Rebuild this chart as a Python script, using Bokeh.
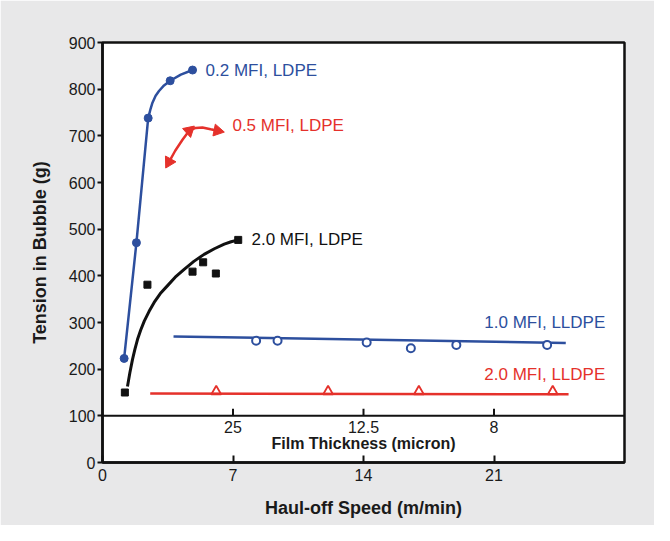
import math
from bokeh.plotting import figure
from bokeh.models import FixedTicker, Span
from bokeh.embed import file_html
from bokeh.resources import INLINE
from bokeh.core.properties import value

# ---------------- data ----------------
# 0.2 MFI, LDPE (blue, filled circles) and its drawn curve
ldpe02_x = [1.16, 1.82, 2.45, 3.63, 4.83]
ldpe02_y = [223, 471, 738, 818, 841]
ldpe02_curve_x = [1.16, 1.82, 2.45, 2.58, 2.68, 2.85, 3.03, 3.30, 3.63, 4.20, 4.83]
ldpe02_curve_y = [223, 471, 738, 758, 771, 786, 796, 808, 818, 831, 841]

# 0.5 MFI, LDPE (red curved arrow)
ldpe05_curve_x = [3.57, 3.90, 4.30, 4.65, 5.00, 5.36, 5.80, 6.17]
ldpe05_curve_y = [644, 668, 692, 711, 717, 718, 714, 711]
ldpe05_head_x = [3.57, 4.65, 6.17]
ldpe05_head_y = [644, 711, 711]

# 2.0 MFI, LDPE (black squares) and fitted curve
ldpe20_x = [1.20, 2.41, 4.83, 5.40, 6.08, 7.28]
ldpe20_y = [150, 381, 409, 429, 405, 477]
ldpe20_fit_x = [1.34, 1.47, 1.61, 1.74, 1.88, 2.05, 2.24, 2.50, 2.77, 3.10,
                3.49, 3.90, 4.38, 4.90, 5.45, 6.00, 6.53, 6.90, 7.28]
ldpe20_fit_y = [163, 193, 221, 243, 264, 284, 303, 324, 343, 362,
                379, 397, 414, 431, 446, 458, 468, 473, 477]

# 1.0 MFI, LLDPE (blue open circles) and fit line
lldpe10_x = [8.24, 9.39, 14.17, 16.54, 18.98, 23.85]
lldpe10_y = [261, 261, 257, 245, 252, 252]
lldpe10_fit_x = [3.81, 24.85]
lldpe10_fit_y = [270, 256]

# 2.0 MFI, LLDPE (red open triangles) and fit line
lldpe20_x = [6.10, 12.10, 16.97, 24.15]
lldpe20_y = [152, 152, 152, 152]
lldpe20_fit_x = [2.56, 25.00]
lldpe20_fit_y = [148, 146]

# axes
speed_ticks = [0, 7, 14, 21]
tension_ticks = [0, 100, 200, 300, 400, 500, 600, 700, 800, 900]
thickness_tick_speed = [7, 14, 21]
thickness_tick_labels = ["25", "12.5", "8"]
thickness_axis_level = 100

series_labels = ["0.2 MFI, LDPE", "0.5 MFI, LDPE", "2.0 MFI, LDPE",
                 "1.0 MFI, LLDPE", "2.0 MFI, LLDPE"]

# ---------------- styling ----------------
BLUE = "#2d4f9e"
RED = "#e5312b"
BLACK = "#111111"
FONT = "Liberation Sans"

X0, X1, Y0, Y1 = 0, 28, 0, 900
p = figure(width=654, height=525, x_range=(X0, X1), y_range=(Y0, Y1),
           output_backend="svg", toolbar_location=None,
           min_border_left=102, min_border_right=30,
           min_border_top=42, min_border_bottom=63)
p.background_fill_color = "white"
p.border_fill_color = "#e8e8e9"
p.outline_line_color = BLACK
p.outline_line_width = 2.5
p.grid.visible = False

# y axis
p.yaxis.ticker = FixedTicker(ticks=tension_ticks)
p.yaxis.axis_label = "Tension in Bubble (g)"
p.yaxis.major_tick_out = 5
p.yaxis.major_tick_in = 0
p.yaxis.minor_tick_out = 0
p.yaxis.minor_tick_in = 0
p.yaxis.major_label_standoff = 2
p.yaxis.axis_label_standoff = 16

# x axis
p.xaxis.ticker = FixedTicker(ticks=speed_ticks)
p.xaxis.axis_label = "Haul-off Speed (m/min)"
p.xaxis.major_tick_out = 0
p.xaxis.major_tick_in = 7
p.xaxis.minor_tick_out = 0
p.xaxis.minor_tick_in = 0
p.xaxis.major_label_standoff = 6
p.xaxis.axis_label_standoff = 14

for ax in (p.xaxis, p.yaxis):
    ax.axis_line_color = BLACK
    ax.axis_line_width = 2.5
    ax.major_tick_line_color = BLACK
    ax.major_tick_line_width = 2
    ax.major_label_text_font = FONT
    ax.major_label_text_font_size = "16px"
    ax.major_label_text_color = "#1a1a1a"
    ax.axis_label_text_font = FONT
    ax.axis_label_text_font_size = "18px"
    ax.axis_label_text_font_style = "bold"
    ax.axis_label_text_color = "#1a1a1a"

# film-thickness strip (secondary scale drawn at tension = 100)
p.add_layout(Span(location=thickness_axis_level, dimension="width",
                  line_color=BLACK, line_width=2))
tick_len = 7 * (Y1 - Y0) / 420.0
p.segment(x0=thickness_tick_speed, y0=[thickness_axis_level] * 3,
          x1=thickness_tick_speed, y1=[thickness_axis_level + tick_len] * 3,
          line_color=BLACK, line_width=2)
p.text(x=thickness_tick_speed, y=[thickness_axis_level] * 3,
       text=thickness_tick_labels, text_font=value(FONT),
       text_font_size="16px", text_color="#1a1a1a",
       text_align="center", text_baseline="top", y_offset=5)
p.text(x=[(X0 + X1) / 2], y=[thickness_axis_level],
       text=["Film Thickness (micron)"], text_font=value(FONT),
       text_font_size="16px", text_font_style="bold", text_color="#1a1a1a",
       text_align="center", text_baseline="top", y_offset=19)

# 0.2 MFI LDPE
p.line(ldpe02_curve_x, ldpe02_curve_y, line_color=BLUE, line_width=2.5,
       line_join="round")
p.scatter(ldpe02_x, ldpe02_y, marker="circle", size=8,
          fill_color=BLUE, line_color=BLUE)

# 0.5 MFI LDPE arrow
p.line(ldpe05_curve_x, ldpe05_curve_y, line_color=RED, line_width=2.5,
       line_join="round")
sx = 420.0 / (Y1 - Y0)
kx = 522.0 / (X1 - X0)
def head_angle(xa, ya, xb, yb):
    # direction from a to b in screen pixels, marker 'triangle' points up
    return math.atan2((yb - ya) * sx, (xb - xa) * kx) - math.pi / 2
angles = [
    head_angle(ldpe05_curve_x[1], ldpe05_curve_y[1], ldpe05_curve_x[0], ldpe05_curve_y[0]),
    head_angle(ldpe05_curve_x[2], ldpe05_curve_y[2], ldpe05_curve_x[4], ldpe05_curve_y[4]),
    head_angle(ldpe05_curve_x[-2], ldpe05_curve_y[-2], ldpe05_curve_x[-1], ldpe05_curve_y[-1]),
]
p.scatter(ldpe05_head_x, ldpe05_head_y, marker="triangle", size=12,
          angle=angles, fill_color=RED, line_color=RED)

# 2.0 MFI LDPE
p.line(ldpe20_fit_x, ldpe20_fit_y, line_color=BLACK, line_width=3,
       line_join="round")
p.scatter(ldpe20_x, ldpe20_y, marker="square", size=7,
          fill_color=BLACK, line_color=BLACK)

# 1.0 MFI LLDPE
p.line(lldpe10_fit_x, lldpe10_fit_y, line_color=BLUE, line_width=2.5)
p.scatter(lldpe10_x, lldpe10_y, marker="circle", size=8,
          fill_color="white", line_color=BLUE, line_width=2)

# 2.0 MFI LLDPE
p.line(lldpe20_fit_x, lldpe20_fit_y, line_color=RED, line_width=2.5)
p.scatter(lldpe20_x, lldpe20_y, marker="triangle", size=10,
          fill_alpha=0, line_color=RED, line_width=1.8)

# series labels
label_pos = [(5.53, 840), (6.97, 722), (7.99, 478), (20.48, 300), (20.48, 189)]
label_col = [BLUE, RED, BLACK, BLUE, RED]
p.text(x=[a for a, b in label_pos], y=[b for a, b in label_pos],
       text=series_labels, text_color=label_col, text_font=value(FONT),
       text_font_size="17px", text_align="left", text_baseline="middle")

open("out.html", "w").write(file_html(p, INLINE))
